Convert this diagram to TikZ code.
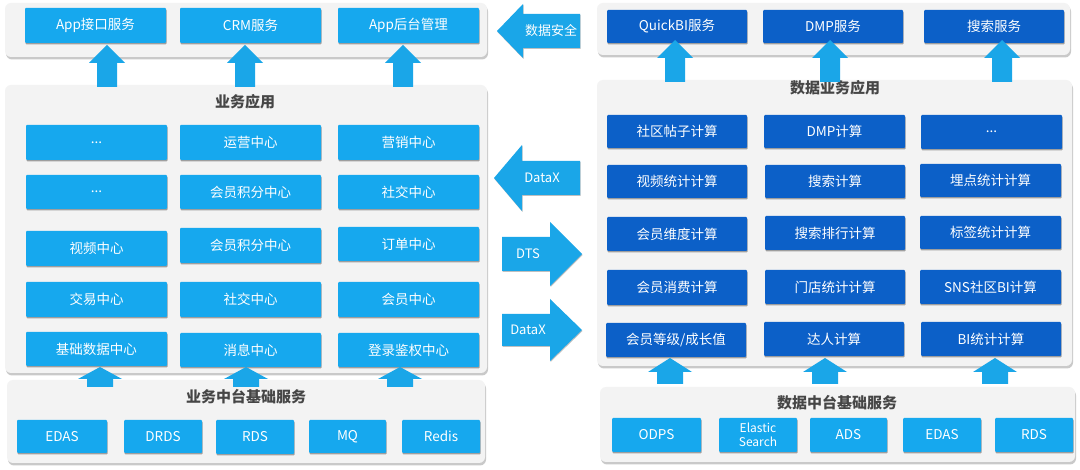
\documentclass[tikz,border=0pt]{standalone}
\usepackage{fontspec}
\setmainfont{Noto Sans CJK SC}
\usetikzlibrary{shadows}
\definecolor{lb}{RGB}{22,168,238}
\definecolor{db}{RGB}{12,96,200}
\definecolor{arrc}{RGB}{26,166,232}
\definecolor{pnl}{RGB}{243,243,243}
\definecolor{ttl}{RGB}{70,70,70}
\newcommand\Bx[7]{\node[#1, minimum width={(#4-#2)*1pt}, minimum height={(#5-#3)*1pt}] (#7) at ({(#2+#4)/2},{(#3+#5)/2}) {#6};}
\newcommand\UpArr[6]{\fill[arrc] (#1,#2) -- ({#1+#4},{#2+#6}) -- ({#1+#5},{#2+#6}) -- ({#1+#5},#3) -- ({#1-#5},#3) -- ({#1-#5},{#2+#6}) -- ({#1-#4},{#2+#6}) -- cycle;}
% tipx, cy, basex, endx, headhalf, bodyhalf
\newcommand\HArr[6]{\fill[arrc, drop shadow={shadow xshift=0.5pt, shadow yshift=-1pt, opacity=0.25, fill=black}] (#1,#2) -- (#3,{#2-#5}) -- (#3,{#2-#6}) -- (#4,{#2-#6}) -- (#4,{#2+#6}) -- (#3,{#2+#6}) -- (#3,{#2+#5}) -- cycle;}
\tikzset{
  panel/.style={fill=pnl, rounded corners=6pt, inner sep=0pt, drop shadow={shadow xshift=1pt, shadow yshift=-2.5pt, opacity=0.35, fill=black!60}},
  lbox/.style={fill=lb, text=white, inner sep=0pt, rounded corners=1pt, font=\fontsize{13.5}{15}\selectfont, drop shadow={shadow xshift=0.5pt, shadow yshift=-1.5pt, opacity=0.35, fill=black}},
  dbox/.style={lbox, fill=db},
  ttlnode/.style={text=ttl, font=\fontsize{15}{17}\selectfont\bfseries, inner sep=1pt},
  arrtxt/.style={text=white, font=\fontsize{13}{15}\selectfont, inner sep=0pt}
}
\begin{document}
\begin{tikzpicture}[x=1pt,y=-1pt]
\useasboundingbox (0,0) rectangle (1080,470);
\fill[white] (0,0) rectangle (1080,470);
% ---------- left side panels ----------
\Bx{panel}{5}{3}{487}{57}{}{LTop}
\Bx{panel}{5}{85}{487}{373}{}{LMid}
\Bx{panel}{7}{380}{485}{463}{}{LBot}
% ---------- right side panels ----------
\Bx{panel}{597}{3}{1070}{55}{}{RTop}
\Bx{panel}{597}{80}{1072}{366}{}{RMid}
\Bx{panel}{600}{387}{1075}{462}{}{RBot}
% ---------- left top boxes ----------
\Bx{lbox}{25}{8}{166}{43}{App接口服务}{a1}
\Bx{lbox}{180}{8}{321}{43}{CRM服务}{a2}
\Bx{lbox}{338}{8}{479}{43}{App后台管理}{a3}
% ---------- left middle ----------
\node[ttlnode] (t1) at (245,102) {业务应用};
\Bx{lbox}{26}{125}{167}{160}{...}{b11}
\Bx{lbox}{180}{125}{321}{160}{运营中心}{b12}
\Bx{lbox}{338}{125}{479}{160}{营销中心}{b13}
\Bx{lbox}{26}{175}{167}{209}{...}{b21}
\Bx{lbox}{180}{175}{321}{209}{会员积分中心}{b22}
\Bx{lbox}{338}{175}{479}{209}{社交中心}{b23}
\Bx{lbox}{26}{231}{167}{266}{视频中心}{b31}
\Bx{lbox}{180}{228}{321}{263}{会员积分中心}{b32}
\Bx{lbox}{338}{227}{479}{261}{订单中心}{b33}
\Bx{lbox}{26}{282}{167}{317}{交易中心}{b41}
\Bx{lbox}{180}{282}{321}{317}{社交中心}{b42}
\Bx{lbox}{338}{282}{479}{317}{会员中心}{b43}
\Bx{lbox}{26}{332}{167}{366}{基础数据中心}{b51}
\Bx{lbox}{180}{333}{321}{367}{消息中心}{b52}
\Bx{lbox}{338}{333}{479}{367}{登录鉴权中心}{b53}
% ---------- left bottom ----------
\node[ttlnode] (t2) at (246,397) {业务中台基础服务};
\Bx{lbox}{17}{420}{107}{453}{EDAS}{c1}
\Bx{lbox}{124}{420}{202}{453}{DRDS}{c2}
\Bx{lbox}{216}{420}{294}{454}{RDS}{c3}
\Bx{lbox}{309}{420}{386}{453}{MQ}{c4}
\Bx{lbox}{402}{420}{480}{453}{Redis}{c5}
% ---------- right top boxes ----------
\Bx{dbox}{607}{10}{747}{43}{QuickBI服务}{d1}
\Bx{dbox}{763}{10}{903}{43}{DMP服务}{d2}
\Bx{dbox}{924}{10}{1064}{43}{搜索服务}{d3}
% ---------- right middle ----------
\node[ttlnode] (t3) at (835,88) {数据业务应用};
\Bx{dbox}{607}{115}{747}{148}{社区帖子计算}{e11}
\Bx{dbox}{764}{115}{905}{148}{DMP计算}{e12}
\Bx{dbox}{921}{115}{1062}{149}{...}{e13}
\Bx{dbox}{607}{165}{747}{198}{视频统计计算}{e21}
\Bx{dbox}{765}{165}{905}{198}{搜索计算}{e22}
\Bx{dbox}{920}{164}{1061}{197}{埋点统计计算}{e23}
\Bx{dbox}{607}{217}{747}{251}{会员维度计算}{e31}
\Bx{dbox}{765}{216}{905}{250}{搜索排行计算}{e32}
\Bx{dbox}{920}{216}{1061}{249}{标签统计计算}{e33}
\Bx{dbox}{607}{270}{747}{305}{会员消费计算}{e41}
\Bx{dbox}{765}{270}{905}{304}{门店统计计算}{e42}
\Bx{dbox}{920}{270}{1061}{304}{SNS社区BI计算}{e43}
\Bx{dbox}{606}{323}{746}{357}{会员等级/成长值}{e51}
\Bx{dbox}{764}{322}{904}{356}{达人计算}{e52}
\Bx{dbox}{921}{322}{1061}{356}{BI统计计算}{e53}
% ---------- right bottom ----------
\node[ttlnode] (t4) at (837,403) {数据中台基础服务};
\Bx{lbox}{612}{418}{701}{452}{ODPS}{f1}
\Bx{lbox}{719}{418}{797}{452}{}{f2}
\node[arrtxt, align=center, font=\fontsize{12}{14}\selectfont] (f2t) at (f2.center) {Elastic\\Search};
\Bx{lbox}{810}{418}{887}{452}{ADS}{f3}
\Bx{lbox}{903}{418}{981}{452}{EDAS}{f4}
\Bx{lbox}{995}{418}{1073}{452}{RDS}{f5}
% ---------- vertical block arrows ----------
\UpArr{107}{45}{87}{18}{10}{18}
\UpArr{245}{45}{87}{18}{10}{18}
\UpArr{403}{45}{87}{18}{10}{18}
\UpArr{100}{367}{387}{22}{13}{12}
\UpArr{246}{367}{387}{22}{13}{12}
\UpArr{400}{367}{387}{22}{13}{12}
\UpArr{675}{40}{82}{18}{10}{18}
\UpArr{830}{40}{82}{18}{10}{18}
\UpArr{1002}{40}{82}{18}{10}{18}
\UpArr{670}{358}{384}{22}{13}{14}
\UpArr{825}{358}{384}{22}{13}{14}
\UpArr{995}{358}{384}{22}{13}{14}
% ---------- horizontal block arrows ----------
\HArr{497}{31}{523}{580}{27}{17}
\node[arrtxt] (h1) at (551,31) {数据安全};
\HArr{494}{178}{522}{580}{33}{17}
\node[arrtxt] (h2) at (542,178) {DataX};
\HArr{582}{254}{550}{502}{32}{17}
\node[arrtxt] (h3) at (528,254) {DTS};
\HArr{582}{330}{550}{502}{31}{16}
\node[arrtxt] (h4) at (528,330) {DataX};
\end{tikzpicture}
\end{document}
